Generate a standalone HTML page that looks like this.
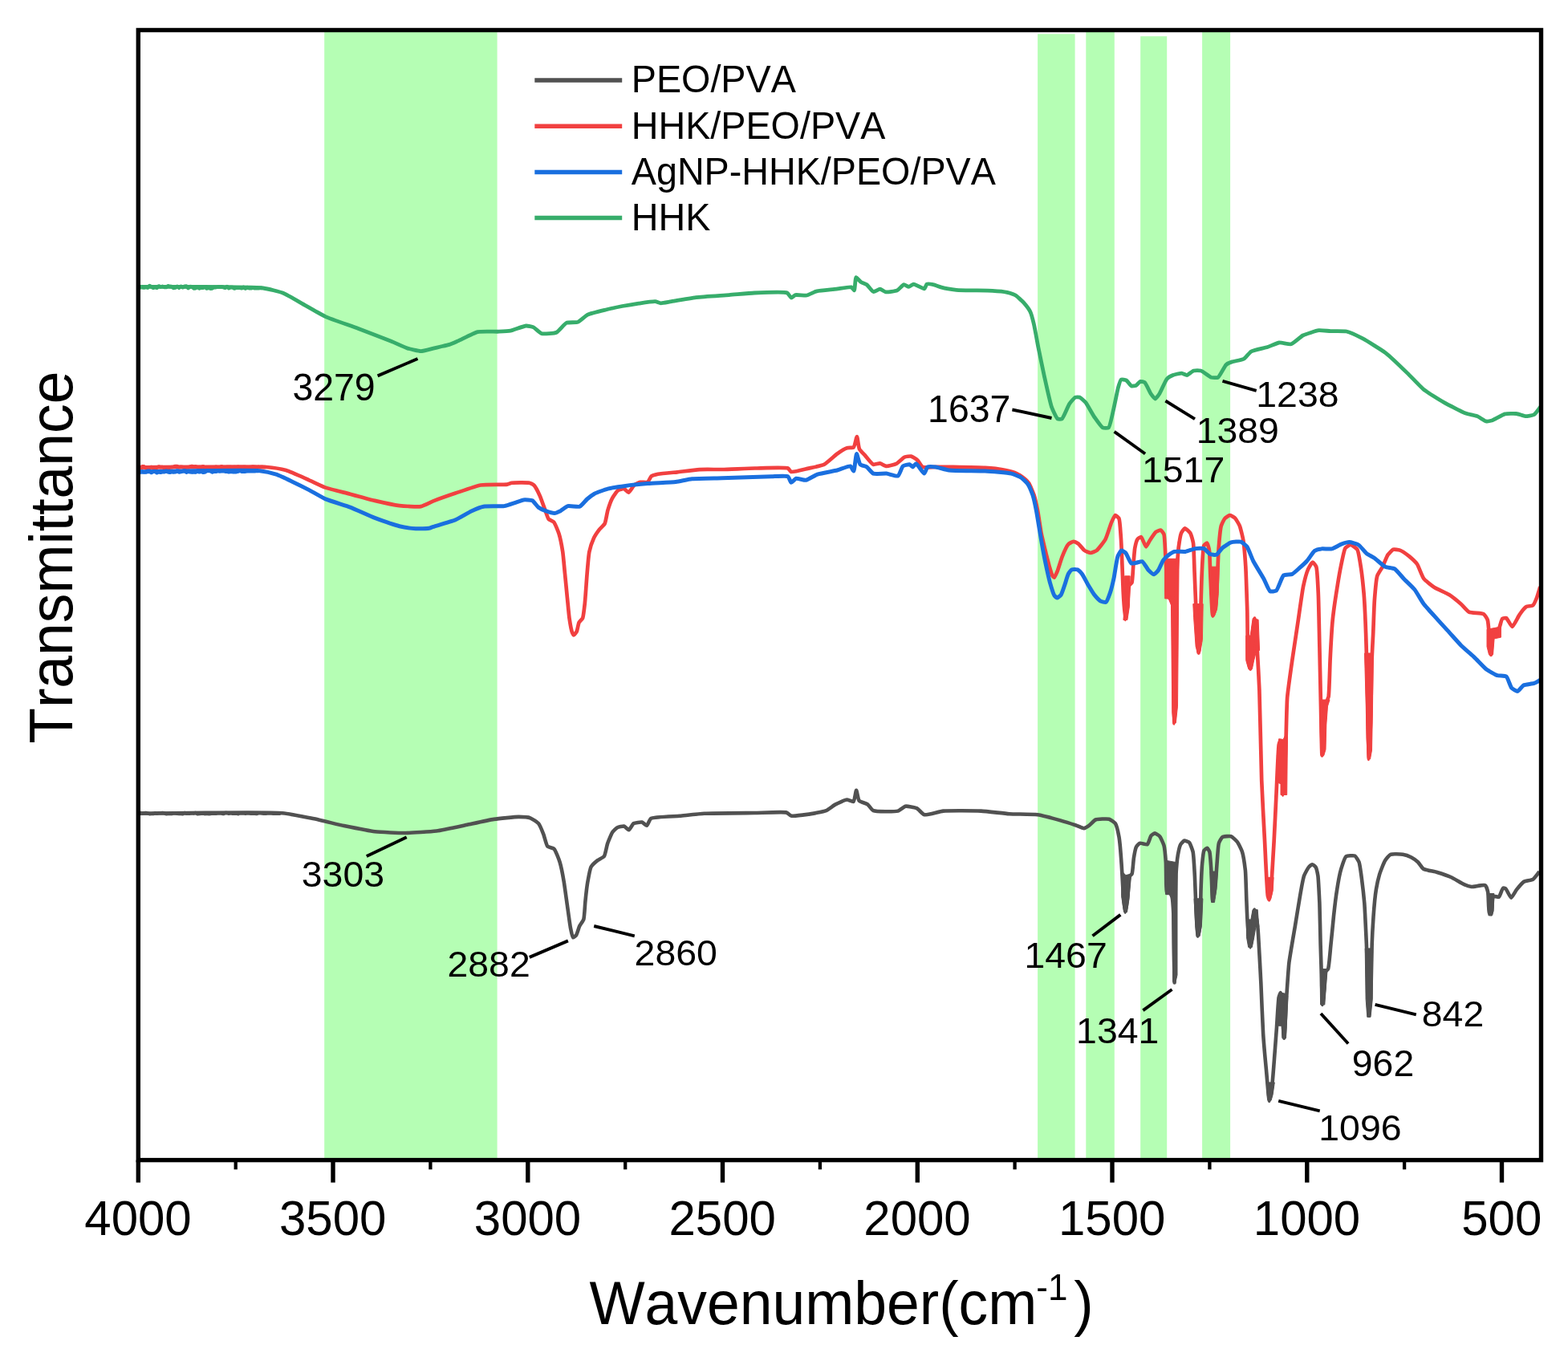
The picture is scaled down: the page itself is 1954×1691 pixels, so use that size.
<!DOCTYPE html>
<html lang="en"><head><meta charset="utf-8"><title>FTIR spectra</title>
<style>html,body{margin:0;padding:0;background:#fff}body{width:1954px;height:1691px;overflow:hidden}svg{display:block}text{font-family:"Liberation Sans",sans-serif;fill:#000;font-kerning:none;font-variant-ligatures:none}</style></head><body>
<svg width="1954" height="1691" viewBox="0 0 1954 1691">
<rect width="1954" height="1691" fill="#fff"/>
<g fill="#b5feb4">
<rect x="404.2" y="40.0" width="215.4" height="1403.0"/>
<rect x="1293.1" y="42.3" width="46.5" height="1400.7"/>
<rect x="1353.3" y="40.0" width="35.5" height="1403.0"/>
<rect x="1421.2" y="45.2" width="33.0" height="1397.8"/>
<rect x="1498.1" y="40.0" width="35.0" height="1403.0"/>
</g>
<polygon fill="#515151" stroke="#515151" stroke-width="1" stroke-linejoin="round" points="1398.3,1086.0 1402.9,1090.6 1409.8,1089.1 1406.8,1119.8 1404.5,1136.6 1400.6,1136.6 1397.6,1116.7"/><polygon fill="#515151" stroke="#515151" stroke-width="1" stroke-linejoin="round" points="1452.5,1072.2 1465.1,1074.5 1467.0,1092.1 1467.0,1215.0 1465.1,1223.4 1461.7,1223.4 1460.5,1115.2 1452.5,1114.4"/><polygon fill="#515151" stroke="#515151" stroke-width="1" stroke-linejoin="round" points="1488.1,1119.8 1498.9,1119.8 1497.4,1153.5 1495.1,1166.6 1491.2,1166.6 1489.7,1153.5"/><polygon fill="#515151" stroke="#515151" stroke-width="1" stroke-linejoin="round" points="1508.1,1086.0 1517.3,1086.0 1515.8,1107.5 1513.5,1124.4 1509.6,1124.4 1508.9,1107.5"/><polygon fill="#515151" stroke="#515151" stroke-width="1" stroke-linejoin="round" points="1553.4,1145.9 1558.8,1145.9 1561.1,1133.6 1567.2,1133.6 1568.8,1155.1 1564.9,1155.1 1562.6,1168.9 1560.3,1180.4 1555.7,1180.4 1553.4,1167.4"/><polygon fill="#515151" stroke="#515151" stroke-width="1" stroke-linejoin="round" points="1578.4,1348.9 1588.3,1348.9 1586.1,1364.2 1584.1,1371.2 1580.0,1371.2 1578.7,1359.6"/><polygon fill="#515151" stroke="#515151" stroke-width="1" stroke-linejoin="round" points="1591.0,1275.2 1593.3,1244.5 1595.6,1236.8 1601.8,1238.3 1604.8,1241.4 1603.3,1278.3 1602.5,1293.6 1597.9,1293.6 1597.2,1278.3 1593.3,1278.3"/><polygon fill="#515151" stroke="#515151" stroke-width="1" stroke-linejoin="round" points="1645.6,1207.5 1654.2,1207.5 1652.5,1228.0 1650.8,1252.0 1645.6,1252.0 1645.3,1228.0"/><polygon fill="#515151" stroke="#515151" stroke-width="1" stroke-linejoin="round" points="1701.2,1181.9 1710.6,1181.9 1710.3,1245.1 1708.0,1267.4 1703.8,1267.4 1702.1,1245.1"/><polygon fill="#515151" stroke="#515151" stroke-width="1" stroke-linejoin="round" points="1853.3,1113.5 1861.9,1113.5 1861.0,1135.7 1858.5,1140.9 1855.0,1140.9"/>
<path fill="none" stroke="#515151" stroke-width="4.60" stroke-linejoin="round" stroke-linecap="butt" d="M172.8,1013.7C172.8,1013.7 333.1,1011.5 351.9,1013.2C360.7,1014.0 383.9,1018.8 390.3,1020.1C396.7,1021.4 422.3,1027.7 428.7,1029.1C435.1,1030.4 460.7,1035.6 467.1,1036.3C473.5,1037.0 499.0,1038.1 505.4,1038.0C511.8,1037.9 537.4,1036.3 543.8,1035.5C550.2,1034.7 576.0,1029.1 582.2,1027.8C587.9,1026.6 610.0,1021.7 615.5,1020.9C620.7,1020.1 642.2,1017.9 646.4,1017.9C649.3,1017.9 658.7,1018.5 660.8,1019.3C662.7,1020.0 669.7,1024.5 671.0,1026.1C672.5,1027.8 676.3,1037.1 677.2,1039.4C678.2,1041.8 680.9,1053.2 682.3,1054.7C683.4,1055.8 689.4,1056.7 690.5,1057.8C692.1,1059.4 696.6,1071.1 697.6,1074.2C698.7,1077.8 702.0,1094.4 702.7,1098.7C703.5,1103.3 706.1,1122.6 706.8,1127.4C707.5,1132.2 710.2,1152.2 710.9,1156.0C711.4,1158.5 713.1,1168.0 714.0,1168.3C714.5,1168.5 717.5,1166.1 718.1,1165.3C719.0,1164.1 721.4,1155.7 722.2,1154.0C722.9,1152.5 726.7,1147.6 727.3,1145.8C728.2,1143.1 729.0,1127.1 729.4,1123.3C729.8,1119.3 731.7,1102.5 732.4,1098.7C733.0,1095.4 735.2,1082.6 736.5,1080.3C737.5,1078.5 743.3,1073.2 744.7,1072.1C746.0,1071.1 751.9,1068.4 752.9,1067.0C754.2,1065.3 756.1,1054.1 757.0,1051.6C757.8,1049.1 761.9,1039.1 763.1,1037.3C764.0,1036.0 768.1,1031.8 769.3,1031.2C770.5,1030.6 776.3,1029.2 777.5,1029.5C778.7,1029.8 782.6,1034.3 783.6,1034.2C784.7,1034.1 788.3,1026.9 789.7,1026.1C791.1,1025.3 798.6,1024.3 800.0,1024.6C801.2,1024.9 805.2,1028.9 806.1,1028.7C807.1,1028.5 809.5,1021.0 811.2,1019.9C814.3,1017.9 841.4,1017.3 847.1,1016.8C852.4,1016.3 871.8,1014.1 877.8,1013.8C886.3,1013.3 930.8,1013.1 940.0,1013.0C947.4,1012.9 976.4,1011.4 980.0,1012.5C981.5,1013.0 984.5,1016.1 985.9,1016.5C988.2,1017.1 1002.4,1015.4 1005.9,1014.9C1009.7,1014.4 1026.4,1011.5 1029.5,1010.2C1031.9,1009.2 1039.1,1003.5 1041.2,1002.4C1043.4,1001.2 1053.2,996.6 1055.3,996.5C1056.8,996.4 1062.6,999.5 1063.6,998.9C1064.9,998.2 1066.5,984.7 1067.1,984.7C1067.7,984.7 1069.3,996.2 1070.6,997.7C1071.8,999.1 1079.7,1001.3 1081.2,1002.4C1082.6,1003.4 1086.4,1009.4 1088.3,1010.2C1091.5,1011.6 1115.4,1011.6 1118.9,1010.6C1121.0,1010.0 1126.5,1005.1 1128.3,1004.7C1130.3,1004.3 1140.4,1006.2 1142.4,1007.1C1144.3,1008.0 1149.8,1014.7 1151.9,1015.3C1154.8,1016.1 1170.8,1011.1 1175.4,1010.6C1181.9,1010.0 1215.2,1010.2 1222.5,1010.6C1228.8,1010.9 1251.9,1013.8 1257.8,1014.2C1263.7,1014.6 1287.6,1014.5 1293.1,1015.3C1298.1,1016.0 1317.2,1021.2 1321.4,1022.4C1324.9,1023.4 1337.5,1027.4 1340.2,1028.3C1342.2,1029.0 1349.3,1032.3 1350.8,1032.2C1352.1,1032.1 1356.5,1029.2 1357.6,1028.4C1358.9,1027.5 1363.6,1022.2 1365.3,1021.5C1367.5,1020.6 1380.0,1020.1 1382.2,1020.7C1383.8,1021.2 1388.9,1024.7 1389.9,1026.1C1391.2,1028.0 1393.9,1039.7 1394.5,1043.0C1395.3,1047.6 1397.2,1071.0 1397.6,1076.8C1398.1,1083.0 1399.4,1109.7 1399.9,1115.2C1400.2,1119.3 1401.7,1136.6 1402.2,1136.6C1402.6,1136.6 1404.8,1123.0 1405.2,1119.8C1405.7,1115.8 1406.5,1094.3 1407.5,1092.1C1407.9,1091.2 1410.2,1089.8 1410.6,1089.0C1411.5,1087.2 1412.4,1072.1 1412.9,1069.1C1413.3,1066.6 1415.1,1056.9 1416.0,1055.3C1416.6,1054.2 1419.6,1051.0 1420.6,1050.7C1421.8,1050.3 1428.7,1052.8 1429.8,1052.2C1431.1,1051.5 1433.4,1042.7 1434.4,1041.5C1435.1,1040.7 1438.2,1038.4 1439.0,1038.4C1440.0,1038.4 1444.3,1041.2 1445.2,1042.2C1446.4,1043.5 1449.9,1051.5 1450.5,1053.7C1451.3,1056.5 1452.5,1069.8 1452.8,1073.7C1453.2,1079.1 1452.9,1112.3 1454.2,1113.0C1454.6,1113.2 1456.7,1110.9 1457.2,1111.0C1457.9,1111.2 1460.2,1116.5 1460.6,1118.0C1461.3,1120.6 1462.2,1135.8 1462.4,1140.0C1462.7,1145.7 1462.8,1173.2 1462.9,1180.0C1463.0,1187.2 1463.5,1224.5 1463.6,1224.5C1463.7,1224.5 1464.2,1188.0 1464.3,1180.0C1464.4,1170.7 1464.6,1128.9 1464.8,1120.0C1464.9,1112.9 1465.6,1087.4 1466.0,1082.0C1466.3,1078.0 1468.0,1064.1 1468.6,1061.4C1469.0,1059.5 1470.6,1053.4 1471.3,1052.2C1471.9,1051.2 1475.0,1047.8 1475.9,1047.6C1476.8,1047.4 1481.2,1049.1 1482.0,1049.9C1483.1,1051.0 1486.0,1059.0 1486.6,1061.4C1487.5,1065.2 1488.6,1086.7 1488.9,1092.1C1489.2,1098.1 1490.1,1124.2 1490.4,1130.5C1490.7,1136.6 1492.2,1166.6 1492.8,1166.6C1493.2,1166.6 1495.1,1156.4 1495.4,1153.5C1496.0,1148.2 1496.3,1114.4 1496.6,1107.5C1496.8,1101.9 1497.7,1081.2 1498.1,1076.8C1498.4,1073.6 1499.5,1061.5 1500.4,1059.9C1500.9,1059.0 1503.7,1056.7 1504.3,1056.8C1504.9,1056.9 1506.9,1060.3 1507.3,1061.4C1508.1,1063.7 1509.1,1080.1 1509.4,1084.4C1509.8,1090.0 1510.6,1122.8 1511.2,1122.8C1511.6,1122.8 1513.8,1110.5 1514.2,1107.5C1514.8,1103.3 1516.1,1081.7 1516.5,1076.8C1516.9,1072.3 1517.9,1053.7 1518.9,1050.7C1519.5,1049.0 1522.3,1043.7 1523.5,1043.0C1524.8,1042.2 1532.7,1041.7 1534.2,1042.2C1535.7,1042.7 1540.8,1047.7 1541.9,1049.1C1543.2,1050.8 1547.2,1059.0 1548.0,1061.4C1549.0,1064.6 1551.4,1080.1 1551.9,1084.4C1552.5,1090.0 1553.1,1116.8 1553.4,1122.8C1553.6,1128.2 1554.5,1148.6 1554.9,1153.5C1555.3,1158.1 1557.4,1180.4 1558.0,1180.4C1558.5,1180.4 1560.7,1164.7 1561.1,1161.2C1561.6,1157.0 1562.8,1133.6 1563.4,1133.6C1563.9,1133.6 1566.7,1149.7 1567.2,1153.5C1567.9,1158.7 1569.1,1183.9 1569.5,1190.0C1569.8,1196.0 1571.1,1219.2 1571.4,1226.0C1571.8,1234.9 1573.5,1278.0 1574.1,1287.5C1574.6,1295.7 1577.3,1326.2 1578.0,1333.5C1578.6,1340.2 1581.1,1371.9 1581.8,1371.9C1582.4,1371.9 1585.1,1353.2 1585.6,1348.9C1586.3,1343.3 1588.2,1316.5 1588.7,1310.5C1589.1,1305.1 1590.6,1285.1 1591.0,1279.8C1591.4,1273.9 1592.9,1246.5 1593.6,1243.0C1593.9,1241.5 1595.5,1237.0 1595.8,1237.0C1596.8,1237.1 1599.6,1293.6 1600.2,1293.6C1600.8,1293.6 1602.8,1249.6 1603.3,1241.4C1603.8,1234.0 1605.6,1206.7 1606.4,1199.6C1607.3,1192.1 1612.8,1160.7 1614.0,1153.5C1615.1,1147.0 1619.0,1122.4 1620.0,1116.9C1620.8,1112.2 1623.9,1094.6 1625.1,1091.3C1625.9,1089.0 1629.9,1081.7 1631.0,1080.5C1631.7,1079.7 1634.7,1077.2 1635.4,1077.2C1636.1,1077.2 1639.1,1079.7 1639.6,1080.5C1640.4,1081.7 1642.0,1089.0 1642.4,1091.3C1643.0,1095.4 1644.1,1119.2 1644.4,1125.5C1644.7,1133.2 1645.4,1169.5 1645.6,1176.8C1645.8,1182.3 1646.3,1200.4 1646.5,1205.8C1646.7,1212.6 1647.8,1252.0 1648.2,1252.0C1648.5,1252.0 1650.3,1231.7 1650.6,1228.0C1650.9,1224.9 1651.1,1212.6 1651.8,1210.9C1652.2,1210.0 1654.6,1208.5 1655.0,1207.5C1656.2,1205.0 1657.9,1182.1 1658.5,1176.8C1659.1,1171.3 1661.3,1148.3 1661.9,1142.6C1662.5,1136.9 1665.3,1113.7 1666.2,1108.4C1666.9,1103.8 1670.2,1086.4 1671.3,1082.7C1672.2,1079.8 1675.6,1068.7 1677.3,1067.4C1678.7,1066.4 1687.0,1065.8 1688.4,1066.5C1689.6,1067.1 1692.8,1072.5 1693.5,1074.2C1694.5,1076.7 1696.4,1090.9 1696.9,1094.7C1697.5,1099.3 1699.8,1119.7 1700.3,1125.5C1700.9,1133.0 1702.5,1168.3 1702.9,1176.8C1703.3,1185.3 1704.3,1220.1 1704.6,1228.0C1704.9,1234.8 1706.0,1265.6 1706.3,1265.6C1706.6,1265.6 1708.3,1234.8 1708.6,1228.0C1708.9,1220.1 1709.4,1184.5 1709.7,1176.8C1709.9,1170.5 1711.1,1148.3 1711.5,1142.6C1711.9,1136.9 1714.1,1113.2 1714.9,1108.4C1715.5,1104.8 1718.2,1092.6 1719.1,1089.6C1720.0,1086.6 1724.6,1074.7 1726.0,1072.5C1727.0,1070.9 1731.2,1065.5 1732.8,1064.8C1734.7,1063.9 1745.9,1064.4 1748.2,1064.8C1750.1,1065.1 1756.9,1067.4 1758.5,1068.2C1760.0,1069.0 1765.7,1073.0 1767.0,1074.2C1768.3,1075.4 1772.2,1081.7 1773.8,1082.7C1775.9,1084.0 1788.1,1086.1 1790.9,1087.0C1793.8,1087.9 1805.2,1091.7 1808.0,1093.0C1810.9,1094.3 1822.7,1101.4 1825.1,1102.4C1826.7,1103.1 1832.0,1104.8 1833.7,1105.0C1836.0,1105.2 1849.1,1102.2 1850.8,1103.2C1852.0,1103.9 1853.8,1109.9 1854.2,1111.8C1854.9,1114.9 1854.9,1135.7 1855.9,1137.4C1856.2,1138.0 1858.1,1139.3 1858.5,1139.1C1859.5,1138.6 1859.5,1118.1 1861.0,1116.9C1861.8,1116.3 1867.0,1118.3 1867.9,1117.8C1869.1,1117.1 1872.0,1107.2 1873.0,1106.7C1873.5,1106.4 1875.8,1107.1 1876.4,1107.5C1877.5,1108.3 1882.0,1118.6 1883.2,1118.6C1884.3,1118.6 1888.8,1110.0 1890.1,1108.4C1891.4,1106.8 1896.9,1100.1 1898.6,1099.0C1900.3,1097.9 1909.0,1096.7 1910.6,1095.6C1912.2,1094.5 1918.3,1086.2 1918.3,1086.2"/>
<polyline fill="none" stroke="#515151" stroke-width="4.60" stroke-linejoin="round" points="172.5,1013.3 174.8,1013.1 177.1,1013.5 179.4,1013.2 181.7,1013.1 184.0,1013.5 186.3,1014.1 188.6,1014.0 190.9,1013.9 193.2,1013.3 195.5,1013.6 197.8,1013.3 200.1,1013.2 202.4,1013.1 204.7,1013.3 207.0,1014.1 209.3,1014.0 211.6,1014.0 213.9,1014.0 216.2,1013.2 218.5,1013.4 220.8,1013.8 223.1,1013.9 225.4,1014.0 227.7,1014.1 230.0,1013.1 232.3,1013.7 234.6,1013.8 236.9,1013.6 239.2,1013.2 241.5,1013.6 243.8,1013.1 246.1,1014.1 248.4,1014.0 250.7,1013.7 253.0,1013.4 255.3,1014.1 257.6,1013.7 259.9,1014.1 262.2,1014.0 264.5,1013.6 266.8,1013.5 269.1,1013.7 271.4,1013.5 273.7,1013.2 276.0,1013.4 278.3,1014.0 280.6,1013.1 282.9,1013.1 285.2,1013.8 287.5,1013.3 289.8,1013.6 292.1,1013.6 294.4,1013.4 296.7,1014.2 299.0,1013.2 301.3,1013.5 303.6,1013.2 305.9,1013.8 308.2,1013.3 310.5,1013.4 312.8,1013.8 315.1,1013.4 317.4,1013.7 319.7,1013.9 322.0,1013.3 324.3,1013.3 326.6,1013.4 328.9,1013.8 331.2,1013.7 333.5,1013.5 335.8,1013.5 338.1,1013.5 340.4,1013.6 342.7,1013.5 345.0,1013.6 347.3,1013.6 349.6,1013.6"/>
<polygon fill="#f14040" stroke="#f14040" stroke-width="1" stroke-linejoin="round" points="1401.6,717.8 1408.2,717.8 1408.2,729.4 1407.4,755.9 1404.9,772.5 1399.9,772.5 1401.6,755.9"/><polygon fill="#f14040" stroke="#f14040" stroke-width="1" stroke-linejoin="round" points="1451.7,696.3 1469.1,696.3 1467.5,880.1 1465.3,900.8 1462.3,902.4 1460.8,888.3 1459.5,754.2 1456.2,746.0 1451.7,746.0"/><polygon fill="#f14040" stroke="#f14040" stroke-width="1" stroke-linejoin="round" points="1486.8,752.6 1499.2,752.6 1498.4,797.3 1495.9,812.2 1492.6,813.8 1490.1,805.6 1487.6,769.1"/><polygon fill="#f14040" stroke="#f14040" stroke-width="1" stroke-linejoin="round" points="1506.7,706.2 1519.1,706.2 1518.3,739.3 1516.6,759.2 1513.3,767.5 1510.0,767.5 1508.3,739.3"/><polygon fill="#f14040" stroke="#f14040" stroke-width="1" stroke-linejoin="round" points="1552.7,792.1 1558.1,792.1 1561.2,770.6 1568.1,772.2 1569.6,810.5 1565.8,810.5 1562.7,822.8 1560.4,833.6 1555.8,833.6 1552.7,822.8"/><polygon fill="#f14040" stroke="#f14040" stroke-width="1" stroke-linejoin="round" points="1591.4,941.4 1593.7,920.7 1599.1,921.5 1604.5,910.7 1603.7,990.5 1596.0,990.5 1596.0,976.7 1592.2,975.2"/><polygon fill="#f14040" stroke="#f14040" stroke-width="1" stroke-linejoin="round" points="1577.9,1093.4 1587.1,1093.4 1586.2,1110.3 1583.7,1119.5 1580.1,1119.5 1578.2,1104.2"/><polygon fill="#f14040" stroke="#f14040" stroke-width="1" stroke-linejoin="round" points="1644.5,872.0 1657.0,872.0 1654.5,880.0 1652.8,903.0 1652.0,934.0 1649.8,941.4 1646.0,941.4 1645.2,910.0"/><polygon fill="#f14040" stroke="#f14040" stroke-width="1" stroke-linejoin="round" points="1700.5,814.0 1711.2,814.0 1710.5,880.0 1709.5,935.0 1707.5,946.0 1704.5,946.0 1703.0,920.0 1702.3,880.0"/><polygon fill="#f14040" stroke="#f14040" stroke-width="1" stroke-linejoin="round" points="1853.0,784.3 1862.1,782.6 1870.4,780.9 1870.4,794.2 1862.1,795.9 1860.5,815.8 1855.5,815.8 1853.0,805.8"/>
<path fill="none" stroke="#f14040" stroke-width="4.70" stroke-linejoin="round" stroke-linecap="butt" d="M172.3,582.6C172.3,582.6 317.0,580.8 332.0,582.0C337.9,582.5 352.3,584.9 356.5,586.1C361.2,587.5 380.8,596.4 385.2,598.3C388.9,599.9 401.9,606.2 405.7,607.6C410.2,609.2 431.3,614.3 436.4,615.7C441.5,617.1 462.0,622.7 467.1,623.9C472.2,625.1 492.8,629.5 497.8,630.1C502.4,630.6 520.6,631.8 524.4,631.1C527.4,630.5 537.0,625.6 540.0,624.4C543.9,622.9 562.8,616.2 567.6,614.6C572.7,612.9 593.6,605.4 599.0,604.5C604.4,603.6 628.9,604.2 632.1,603.6C633.4,603.4 636.4,601.9 637.6,601.7C640.0,601.3 657.3,601.1 659.7,601.7C661.0,602.0 664.4,603.7 665.3,604.5C666.6,605.8 671.5,615.0 672.6,617.4C674.0,620.3 679.0,634.9 680.0,637.6C680.7,639.5 682.7,645.8 683.7,646.9C684.5,647.8 689.2,649.5 690.1,650.5C691.5,652.0 695.7,662.5 696.6,665.3C697.6,668.6 700.6,683.5 701.2,687.4C701.9,691.7 703.5,710.4 704.0,715.0C704.5,719.6 706.2,738.1 706.7,742.7C707.2,747.3 708.9,766.2 709.5,770.3C710.0,773.7 712.5,787.0 713.2,788.7C713.5,789.4 714.6,791.5 715.0,791.5C715.5,791.5 718.2,787.9 718.7,786.9C719.4,785.5 720.8,777.3 721.5,775.8C722.1,774.6 725.5,771.6 726.1,770.3C727.0,768.2 728.4,755.5 728.8,751.9C729.4,746.8 731.1,720.7 731.6,715.0C732.0,710.1 733.5,691.4 734.4,687.4C735.1,684.2 738.8,673.2 739.9,670.8C740.8,668.8 745.1,662.3 746.3,660.7C747.4,659.2 752.8,654.2 753.7,652.4C754.8,650.2 756.6,638.5 757.4,635.8C758.2,633.2 761.7,623.3 762.9,621.1C763.9,619.2 768.9,611.9 770.3,610.9C771.4,610.2 776.6,608.8 777.7,609.1C778.8,609.3 782.3,613.8 783.2,613.7C784.4,613.6 789.1,605.6 790.5,604.5C791.6,603.6 796.6,601.1 797.9,600.8C799.3,600.5 805.9,601.4 807.1,600.8C808.2,600.2 810.6,594.2 811.7,593.4C812.8,592.6 818.2,591.1 820.0,590.7C822.9,590.1 839.9,588.7 844.0,588.3C848.4,587.8 867.0,585.4 871.6,585.1C876.3,584.8 894.8,585.1 900.0,585.0C906.2,584.9 934.1,583.6 940.9,583.5C947.7,583.4 978.7,582.1 981.9,583.5C983.1,584.0 984.9,587.6 986.0,588.0C988.0,588.7 1003.0,584.7 1006.4,583.9C1009.8,583.1 1023.8,580.3 1026.9,578.8C1030.0,577.3 1040.7,567.3 1043.3,565.5C1045.4,564.0 1053.7,558.9 1055.6,558.3C1057.1,557.8 1062.8,558.1 1063.8,557.3C1065.1,556.2 1067.3,544.0 1067.9,544.0C1068.5,544.0 1069.9,557.3 1070.9,559.4C1071.7,561.1 1076.8,566.1 1078.1,567.6C1079.6,569.3 1086.5,578.2 1088.3,578.8C1089.6,579.3 1095.2,577.2 1096.5,577.4C1097.9,577.6 1103.2,580.8 1104.7,580.9C1106.5,581.0 1115.1,578.7 1117.0,577.8C1118.9,576.9 1125.5,570.3 1127.2,569.6C1128.6,569.0 1134.1,568.3 1135.4,568.6C1136.8,568.9 1142.4,572.6 1143.6,573.7C1144.8,574.8 1148.2,581.1 1149.7,581.9C1151.6,582.9 1163.2,581.9 1166.1,581.9C1169.3,581.9 1182.6,581.9 1186.6,581.9C1192.3,582.0 1221.9,582.5 1227.5,582.9C1231.5,583.2 1244.8,584.4 1248.0,585.0C1250.9,585.5 1262.1,588.1 1264.4,589.0C1266.3,589.7 1272.5,593.4 1274.0,594.5C1275.5,595.6 1280.9,600.4 1282.0,602.0C1283.4,603.9 1287.6,614.1 1288.5,616.8C1289.5,619.8 1292.5,633.2 1293.2,636.8C1294.0,641.0 1296.7,659.9 1297.6,664.4C1298.5,668.8 1302.7,686.2 1303.6,690.0C1304.4,693.1 1307.3,704.5 1308.0,707.0C1308.6,709.0 1310.8,716.4 1311.5,717.5C1311.9,718.1 1313.4,719.8 1313.8,719.7C1314.4,719.6 1316.9,713.6 1317.6,712.0C1318.6,709.6 1322.5,696.5 1323.7,693.6C1324.8,690.9 1329.9,679.7 1331.4,678.2C1332.4,677.2 1336.6,674.8 1337.6,674.8C1338.6,674.8 1342.7,676.8 1343.7,677.5C1345.0,678.4 1350.0,684.9 1351.4,685.9C1352.6,686.7 1357.8,689.0 1359.1,689.0C1360.4,689.0 1365.4,686.8 1366.7,685.9C1368.5,684.5 1376.0,674.8 1377.5,672.1C1379.2,669.0 1384.0,653.3 1385.2,650.6C1386.0,648.8 1388.9,642.3 1389.8,642.1C1390.5,642.0 1393.8,644.9 1394.4,646.0C1395.5,648.0 1396.4,663.6 1396.7,667.5C1397.1,672.2 1398.0,692.8 1398.2,698.2C1398.5,704.2 1399.4,730.3 1399.7,736.6C1400.0,742.6 1401.6,772.0 1402.2,772.0C1402.6,772.0 1404.8,755.4 1405.2,752.0C1405.6,748.4 1406.3,731.5 1407.2,729.5C1407.6,728.6 1410.1,726.9 1410.5,726.0C1411.3,724.1 1411.9,709.5 1412.2,706.0C1412.5,702.3 1413.7,685.9 1414.3,682.8C1414.7,680.7 1416.5,673.3 1417.4,672.1C1418.0,671.3 1421.3,668.8 1422.0,669.0C1423.1,669.3 1427.1,681.3 1428.1,681.3C1428.9,681.3 1431.9,675.0 1432.8,673.6C1433.9,671.9 1439.0,664.0 1440.4,662.9C1441.4,662.2 1445.8,660.3 1446.6,660.6C1447.4,660.9 1450.0,664.6 1450.5,665.9C1451.4,668.4 1452.0,686.3 1452.3,690.5C1452.6,695.0 1453.5,713.5 1453.6,718.0C1453.7,722.3 1453.0,741.4 1454.0,743.0C1454.4,743.6 1456.5,744.1 1457.0,744.5C1457.6,745.0 1460.3,747.9 1460.8,749.0C1461.7,751.1 1462.0,765.4 1462.2,770.0C1462.5,779.0 1462.5,838.1 1462.6,850.0C1462.7,859.5 1463.2,901.5 1463.4,901.5C1463.6,901.5 1464.5,859.5 1464.6,850.0C1464.8,838.1 1465.0,782.1 1465.2,770.0C1465.3,760.0 1466.1,722.4 1466.4,715.0C1466.6,710.0 1467.7,693.6 1468.0,690.0C1468.2,687.3 1469.2,678.2 1469.6,676.0C1469.9,674.0 1471.3,666.0 1472.0,664.4C1472.6,663.1 1475.6,658.4 1476.5,658.3C1477.5,658.2 1482.5,663.1 1483.4,664.4C1484.4,666.0 1486.6,674.1 1487.0,676.7C1487.7,681.2 1488.3,707.0 1488.6,713.5C1488.9,720.8 1490.1,752.0 1490.5,760.0C1490.9,768.6 1493.1,813.6 1493.6,813.6C1494.1,813.6 1495.9,768.6 1496.3,760.0C1496.6,752.0 1497.4,720.6 1497.8,713.5C1498.1,707.4 1499.0,682.3 1500.3,679.8C1500.8,678.8 1503.7,676.5 1504.2,676.7C1504.9,676.9 1506.7,683.9 1507.0,685.9C1507.6,689.2 1507.9,708.1 1508.2,713.5C1508.6,721.0 1510.3,767.5 1511.3,767.6C1511.8,767.7 1514.2,760.1 1514.6,758.0C1515.4,754.2 1516.5,730.8 1516.8,725.0C1517.2,718.4 1518.2,689.1 1518.7,682.8C1519.1,677.7 1520.8,658.5 1521.8,655.2C1522.4,653.2 1525.4,647.1 1526.4,646.0C1527.2,645.1 1531.5,642.2 1532.5,642.1C1533.5,642.0 1537.8,644.4 1538.7,645.2C1539.9,646.3 1544.0,653.2 1544.8,655.2C1545.9,657.7 1548.8,670.1 1549.4,673.6C1550.2,678.2 1551.9,699.7 1552.3,705.8C1552.8,713.8 1554.0,751.9 1554.3,761.4C1554.6,771.4 1554.6,816.8 1555.4,822.8C1555.7,825.4 1557.7,833.6 1558.1,833.6C1558.7,833.5 1560.1,805.4 1560.6,800.0C1561.0,794.9 1563.0,770.6 1563.5,770.6C1564.0,770.6 1566.1,800.8 1566.6,807.5C1567.1,815.5 1569.0,849.6 1569.4,860.0C1570.0,875.2 1571.6,955.2 1572.2,972.1C1572.7,986.1 1575.4,1036.5 1576.1,1048.9C1576.7,1060.5 1578.9,1111.7 1579.9,1116.4C1580.2,1117.7 1581.5,1121.3 1581.8,1121.3C1582.2,1121.3 1583.4,1112.9 1583.7,1110.3C1584.4,1104.2 1587.0,1059.1 1587.6,1048.9C1588.2,1038.7 1590.1,997.7 1590.6,987.5C1591.1,977.5 1592.8,932.4 1593.7,928.0C1594.0,926.7 1595.3,923.0 1595.6,923.0C1596.6,923.2 1598.5,990.5 1599.1,990.5C1599.6,990.5 1601.9,940.1 1602.3,930.0C1602.7,919.8 1603.4,878.3 1604.2,868.9C1604.9,860.7 1609.2,830.5 1610.3,822.8C1611.4,815.1 1616.1,784.5 1617.2,776.8C1618.4,769.1 1622.8,736.9 1624.1,730.7C1625.0,726.5 1628.8,712.3 1630.0,709.6C1630.9,707.7 1634.9,700.5 1635.8,700.5C1636.6,700.5 1639.7,704.8 1640.3,706.3C1641.5,709.5 1642.5,733.0 1642.8,739.5C1643.3,748.7 1644.1,794.4 1644.4,805.8C1644.7,817.9 1645.7,868.6 1646.0,880.4C1646.2,891.1 1647.1,941.4 1647.5,941.4C1647.8,941.4 1649.8,910.6 1650.2,905.0C1650.5,900.2 1651.3,881.4 1652.0,878.0C1652.4,875.9 1655.1,870.3 1655.6,868.0C1656.5,863.2 1657.2,830.2 1657.6,822.4C1658.0,814.3 1659.9,780.5 1660.7,772.6C1661.4,765.4 1665.5,737.4 1666.5,731.2C1667.3,726.0 1670.6,707.3 1671.5,703.0C1672.3,699.4 1675.0,685.0 1676.4,683.1C1677.3,681.9 1681.9,679.0 1683.1,679.0C1684.4,679.0 1690.4,683.2 1691.4,684.8C1693.1,687.3 1695.6,705.3 1696.3,709.6C1697.0,714.3 1699.1,733.9 1699.6,739.5C1700.2,746.7 1701.8,780.9 1702.1,789.2C1702.4,797.5 1703.4,830.3 1703.6,839.0C1703.8,848.7 1704.6,890.5 1704.8,900.0C1705.0,908.2 1705.5,946.0 1705.8,946.0C1706.1,946.0 1707.7,908.7 1708.0,900.0C1708.4,888.8 1709.2,832.6 1709.6,822.4C1709.8,815.7 1710.9,795.0 1711.2,789.2C1711.5,782.7 1712.4,754.1 1712.9,747.8C1713.3,742.4 1715.0,721.6 1716.2,717.9C1717.0,715.4 1721.8,708.4 1722.9,706.3C1724.1,704.0 1728.2,693.3 1729.5,691.4C1730.5,690.0 1734.8,685.3 1736.1,684.8C1737.3,684.4 1743.0,685.1 1744.4,685.6C1746.2,686.2 1754.2,691.7 1756.0,693.1C1757.8,694.6 1764.6,700.9 1766.0,703.0C1767.7,705.5 1772.4,718.7 1774.3,721.2C1776.1,723.5 1785.0,730.4 1787.5,732.0C1790.2,733.8 1803.0,739.3 1805.8,741.1C1808.5,742.8 1818.5,750.9 1820.7,752.8C1822.6,754.5 1828.5,761.6 1830.6,762.7C1833.0,763.9 1847.0,764.0 1848.9,765.2C1850.2,766.0 1853.2,770.9 1853.8,772.6C1854.8,775.4 1855.9,793.7 1856.3,797.5C1856.6,800.8 1857.7,815.8 1858.0,815.8C1858.4,815.8 1859.0,791.4 1860.5,789.2C1861.3,788.0 1866.2,786.9 1867.1,785.9C1868.4,784.4 1870.9,772.0 1872.1,771.0C1872.8,770.4 1876.3,769.9 1877.1,770.2C1878.4,770.8 1883.2,780.9 1884.5,780.9C1886.0,780.9 1892.0,768.2 1893.6,766.0C1894.9,764.1 1900.3,757.0 1901.9,756.1C1903.2,755.3 1909.1,755.2 1910.2,754.4C1911.4,753.5 1914.5,746.3 1915.2,744.5C1916.0,742.5 1919.3,731.2 1919.3,731.2"/>
<polyline fill="none" stroke="#f14040" stroke-width="4.70" stroke-linejoin="round" points="172.5,583.7 174.8,583.7 177.1,581.3 179.4,581.4 181.7,583.3 184.0,583.1 186.3,582.9 188.6,582.0 190.9,582.7 193.2,582.7 195.5,582.6 197.8,581.5 200.1,582.2 202.4,582.1 204.7,583.0 207.0,583.7 209.3,583.6 211.6,582.5 213.9,582.2 216.2,581.8 218.5,581.1 220.8,581.1 223.1,582.3 225.4,581.9 227.7,582.0 230.0,583.3 232.3,582.4 234.6,582.5 236.9,581.6 239.2,581.1 241.5,581.8 243.8,581.3 246.1,582.3 248.4,583.6 250.7,582.7 253.0,581.4 255.3,583.3 257.6,583.0 259.9,582.8 262.2,583.3 264.5,582.9 266.8,583.0 269.1,581.8 271.4,583.4 273.7,583.4 276.0,581.3 278.3,582.8 280.6,582.7 282.9,582.1 285.2,582.2 287.5,582.1 289.8,583.2 292.1,582.1 294.4,582.9 296.7,581.8 299.0,582.9 301.3,582.9 303.6,582.0 305.9,582.2 308.2,582.7 310.5,582.4 312.8,582.0 315.1,581.7 317.4,581.9 319.7,582.2 322.0,581.8 324.3,582.2 326.6,581.9 328.9,582.1 331.2,582.0"/>
<path fill="none" stroke="#1a6fdf" stroke-width="5.00" stroke-linejoin="round" stroke-linecap="butt" d="M172.3,588.1C172.3,588.1 310.3,585.3 323.8,586.7C328.8,587.2 340.9,590.1 344.2,591.2C347.7,592.3 361.3,598.8 364.7,600.4C368.1,602.0 381.8,608.8 385.2,610.6C388.6,612.4 401.9,620.2 405.7,621.9C410.2,623.9 431.3,630.2 436.4,632.1C441.6,634.1 461.9,643.4 467.1,645.4C472.2,647.3 493.2,654.6 497.8,655.7C501.5,656.6 515.0,658.5 518.2,658.7C521.1,658.9 532.6,658.7 534.6,658.3C535.8,658.1 538.7,656.8 540.0,656.4C542.8,655.5 563.4,649.6 567.6,647.8C571.3,646.2 584.7,638.1 587.9,636.7C590.5,635.5 599.8,631.7 602.6,631.2C606.2,630.5 624.9,631.2 628.4,630.6C631.0,630.2 639.2,627.3 641.3,626.6C643.2,626.0 650.5,623.1 652.4,622.9C654.2,622.7 661.9,623.0 663.4,623.8C664.9,624.6 669.4,631.0 670.8,632.1C672.2,633.1 678.4,636.1 680.0,636.7C681.7,637.3 689.5,639.6 691.1,639.5C692.5,639.4 697.1,637.3 698.4,636.7C699.9,635.9 705.8,631.1 707.6,630.6C709.7,630.0 720.4,632.0 722.4,631.2C724.3,630.5 730.0,623.4 731.6,622.0C733.1,620.7 739.0,616.2 740.8,615.2C743.1,614.0 754.4,609.9 757.4,609.1C760.8,608.2 775.6,605.9 779.5,605.4C783.8,604.8 802.2,603.0 807.1,602.6C812.6,602.1 837.1,601.0 842.1,600.4C846.0,599.9 858.5,597.1 862.4,596.7C867.7,596.2 893.0,595.9 900.0,595.7C909.0,595.4 953.9,593.9 961.4,593.8C965.7,593.7 979.9,592.6 981.9,593.8C983.2,594.6 985.1,601.1 986.0,601.3C986.8,601.5 990.8,596.5 992.1,596.2C993.7,595.8 1002.3,598.6 1004.4,598.3C1006.8,597.9 1015.9,592.1 1018.7,591.1C1022.2,589.9 1039.6,586.9 1043.3,586.0C1046.3,585.2 1058.0,580.3 1059.7,580.9C1060.8,581.3 1063.2,587.1 1063.8,587.0C1064.8,586.8 1066.7,565.6 1067.5,565.5C1068.1,565.5 1070.7,577.5 1072.0,578.8C1073.0,579.9 1078.8,581.1 1080.1,581.9C1081.6,582.9 1086.5,589.4 1088.3,590.1C1090.4,591.0 1102.1,589.8 1104.7,590.1C1107.2,590.4 1117.3,593.9 1119.0,593.1C1120.7,592.3 1123.8,582.0 1125.2,580.9C1126.3,580.0 1132.3,578.6 1133.4,578.8C1134.3,579.0 1136.8,581.9 1137.5,581.9C1138.2,581.9 1140.8,577.8 1141.6,577.8C1142.9,577.9 1150.6,590.2 1151.8,590.1C1152.7,590.0 1154.8,582.6 1155.9,581.9C1157.1,581.2 1164.2,581.7 1166.1,581.9C1168.5,582.2 1179.1,585.5 1182.5,586.0C1188.1,586.8 1220.6,586.6 1227.5,587.0C1233.4,587.3 1256.2,589.1 1260.3,590.1C1262.9,590.7 1270.9,594.1 1272.6,595.2C1274.2,596.3 1279.6,601.4 1280.7,603.0C1282.0,604.9 1286.0,614.2 1286.9,616.8C1287.9,619.8 1290.8,633.2 1291.5,636.8C1292.3,641.0 1295.3,659.6 1296.1,664.4C1297.0,669.8 1301.1,692.9 1302.2,698.2C1303.2,703.0 1307.3,721.8 1308.4,725.8C1309.3,728.9 1312.7,740.3 1313.8,741.9C1314.4,742.7 1316.9,745.0 1317.6,745.0C1318.3,745.0 1321.5,742.1 1322.2,741.2C1323.2,739.8 1326.1,731.0 1326.8,728.9C1327.6,726.7 1330.4,716.8 1331.4,715.1C1332.1,713.9 1335.1,710.1 1336.0,709.7C1336.9,709.3 1341.2,709.3 1342.2,709.7C1343.3,710.1 1347.3,713.9 1348.3,715.1C1349.7,716.8 1354.7,726.7 1356.0,728.9C1357.3,731.0 1362.3,739.5 1363.7,741.2C1364.9,742.7 1369.9,748.2 1371.3,748.9C1372.4,749.5 1377.3,750.9 1378.2,750.4C1379.5,749.7 1382.8,740.4 1383.6,738.1C1384.5,735.4 1387.5,723.0 1388.2,719.7C1389.0,715.7 1391.7,696.6 1392.8,693.6C1393.4,691.9 1396.5,686.1 1397.4,685.9C1398.2,685.7 1402.0,688.1 1402.8,689.0C1404.1,690.3 1408.3,701.3 1409.7,702.0C1410.6,702.5 1414.8,701.5 1415.9,701.3C1417.1,701.1 1422.4,699.3 1423.5,699.7C1425.0,700.3 1429.8,709.1 1431.2,710.5C1432.3,711.6 1437.0,715.9 1438.1,715.8C1439.1,715.7 1442.7,711.7 1443.5,710.5C1444.6,708.9 1448.4,699.8 1449.6,698.2C1450.5,696.9 1454.6,692.9 1455.8,692.0C1457.0,691.1 1462.0,687.8 1463.5,687.4C1465.4,686.9 1475.1,687.7 1477.3,687.4C1479.4,687.1 1487.6,683.9 1489.6,683.6C1491.4,683.3 1498.8,683.0 1500.3,683.6C1501.8,684.2 1506.6,689.9 1508.0,690.5C1509.2,691.0 1514.5,691.8 1515.7,691.3C1517.1,690.7 1521.8,684.1 1523.3,682.8C1524.9,681.5 1532.2,676.5 1534.1,675.9C1536.0,675.3 1544.7,674.6 1546.4,675.2C1547.9,675.7 1552.9,679.8 1554.0,681.3C1555.6,683.4 1560.1,695.9 1561.7,699.0C1563.5,702.6 1573.1,718.1 1575.0,721.5C1576.5,724.3 1581.0,735.9 1582.7,736.8C1583.8,737.4 1589.3,736.9 1590.4,736.1C1592.3,734.8 1597.5,718.4 1599.6,716.9C1601.1,715.8 1608.7,716.1 1610.3,715.4C1612.0,714.6 1618.0,709.0 1619.5,707.7C1621.1,706.3 1627.2,700.7 1628.7,699.0C1630.4,697.2 1636.5,687.6 1638.3,686.4C1639.6,685.5 1645.0,684.1 1646.6,683.9C1648.5,683.6 1657.7,684.4 1659.8,683.9C1661.9,683.4 1669.6,678.8 1671.5,678.1C1673.2,677.5 1679.7,675.6 1681.4,675.6C1683.3,675.6 1691.3,677.9 1693.0,679.0C1694.9,680.2 1701.2,688.3 1703.0,689.7C1704.6,691.0 1711.2,694.3 1712.9,695.5C1715.0,697.0 1723.9,705.2 1726.2,706.3C1728.1,707.2 1736.0,707.8 1737.8,708.8C1739.9,710.0 1747.4,719.1 1749.4,721.2C1751.5,723.4 1760.7,732.0 1762.7,734.5C1764.9,737.2 1772.2,750.0 1774.3,752.8C1776.3,755.5 1785.2,765.1 1787.5,767.7C1790.1,770.6 1801.3,782.9 1804.1,785.9C1806.9,788.9 1817.9,801.4 1820.7,804.2C1823.4,806.9 1834.6,816.6 1837.3,819.1C1839.9,821.5 1849.7,832.1 1852.2,834.0C1854.4,835.6 1863.3,840.8 1865.5,841.5C1867.4,842.2 1875.6,842.0 1877.1,843.1C1878.8,844.4 1882.3,855.7 1883.7,857.2C1884.8,858.3 1890.0,861.6 1891.2,861.4C1892.5,861.2 1897.0,854.7 1898.6,853.9C1900.4,853.0 1910.1,852.1 1911.9,851.4C1913.4,850.9 1919.3,847.3 1919.3,847.3"/>
<polyline fill="none" stroke="#1a6fdf" stroke-width="5.00" stroke-linejoin="round" points="172.5,587.5 174.8,588.2 177.1,587.8 179.4,588.3 181.7,588.3 184.0,587.0 186.3,586.9 188.6,588.7 190.9,587.4 193.2,587.3 195.5,589.0 197.8,587.8 200.1,588.6 202.4,587.8 204.7,588.1 207.0,587.0 209.3,588.1 211.6,588.6 213.9,587.8 216.2,588.3 218.5,588.1 220.8,586.7 223.1,588.2 225.4,587.8 227.7,587.2 230.0,586.6 232.3,588.4 234.6,587.5 236.9,588.0 239.2,588.4 241.5,588.0 243.8,588.4 246.1,587.2 248.4,588.1 250.7,587.3 253.0,588.4 255.3,588.2 257.6,586.5 259.9,586.5 262.2,586.7 264.5,588.3 266.8,587.2 269.1,587.5 271.4,586.8 273.7,587.2 276.0,587.0 278.3,586.9 280.6,587.4 282.9,587.3 285.2,588.0 287.5,587.5 289.8,587.9 292.1,587.7 294.4,587.9 296.7,587.3 299.0,586.5 301.3,587.5 303.6,587.5 305.9,587.4 308.2,587.0 310.5,587.1 312.8,586.7 315.1,587.0 317.4,586.9 319.7,586.8 322.0,586.8"/>
<path fill="none" stroke="#37ad6b" stroke-width="4.80" stroke-linejoin="round" stroke-linecap="butt" d="M172.3,357.3C172.3,357.3 313.2,357.1 327.9,359.0C333.8,359.8 348.3,363.5 352.4,365.1C357.1,366.9 376.4,378.4 381.0,380.9C385.3,383.3 401.0,392.4 405.7,394.6C411.6,397.3 439.8,406.9 446.6,409.5C453.4,412.1 481.9,423.0 487.5,425.3C491.5,426.9 504.7,433.1 508.0,434.1C510.8,435.0 521.7,437.6 524.4,437.6C527.0,437.6 537.8,434.6 540.0,434.1C541.7,433.7 547.4,432.4 549.0,432.0C550.7,431.6 558.2,430.0 560.0,429.4C561.8,428.8 568.6,425.8 570.7,424.9C574.0,423.5 591.0,414.6 595.3,413.6C599.5,412.6 618.2,413.4 621.9,413.2C624.7,413.1 633.7,412.7 636.2,412.2C639.2,411.6 653.0,406.1 655.7,406.0C657.5,405.9 663.4,407.2 664.9,407.9C666.6,408.7 673.0,415.1 675.1,415.7C677.6,416.4 690.9,415.4 693.5,414.2C696.0,413.1 703.5,403.4 705.8,402.4C707.9,401.4 717.9,402.1 720.1,401.3C722.4,400.4 729.9,393.3 732.4,392.1C735.5,390.6 751.3,386.9 755.0,386.0C758.5,385.1 772.0,382.2 775.4,381.5C778.8,380.9 792.5,378.7 795.9,378.2C799.3,377.7 813.9,375.5 816.4,375.7C817.9,375.8 822.1,377.7 823.5,377.8C825.4,377.9 834.1,376.1 836.8,375.7C840.9,375.0 862.0,371.3 867.5,370.6C873.8,369.8 902.1,368.1 908.5,367.6C914.1,367.2 934.4,365.2 940.0,365.0C946.4,364.7 977.6,363.4 981.0,365.0C982.5,365.7 985.1,371.0 986.0,371.1C986.8,371.2 990.1,367.9 991.2,367.6C992.9,367.1 1003.2,368.4 1005.5,368.0C1007.7,367.6 1015.3,363.5 1017.8,362.9C1021.1,362.0 1038.6,360.7 1042.4,360.2C1045.7,359.8 1059.0,357.1 1060.8,357.8C1061.8,358.2 1064.0,362.0 1064.5,361.9C1065.3,361.7 1065.9,345.8 1066.9,345.5C1067.6,345.3 1071.9,350.8 1073.0,351.6C1074.1,352.3 1079.0,353.9 1080.2,354.7C1081.6,355.7 1086.9,363.2 1088.4,363.5C1089.7,363.8 1095.3,360.1 1096.6,360.2C1097.9,360.3 1102.4,363.7 1103.8,363.9C1105.7,364.2 1116.1,362.8 1118.0,361.9C1119.7,361.1 1125.0,354.9 1126.3,354.7C1127.3,354.5 1131.4,357.4 1132.4,357.4C1133.4,357.4 1137.4,354.2 1138.6,354.1C1140.4,354.0 1150.5,360.3 1151.9,359.8C1152.8,359.5 1154.2,354.6 1155.0,354.1C1155.9,353.6 1161.7,354.4 1163.1,354.7C1164.7,355.0 1171.4,357.7 1173.4,358.2C1176.0,358.9 1188.0,360.9 1191.8,361.3C1197.6,361.9 1231.0,361.9 1236.8,362.3C1240.5,362.5 1252.6,363.7 1255.2,364.3C1257.2,364.8 1263.9,367.0 1265.5,368.0C1267.3,369.1 1274.2,375.5 1275.7,377.2C1277.2,378.9 1282.9,386.4 1283.9,388.5C1285.0,390.8 1287.7,401.0 1288.4,404.0C1289.4,408.1 1293.0,428.3 1294.0,433.4C1295.1,439.0 1300.0,462.4 1301.3,468.4C1302.7,474.7 1308.7,502.2 1310.5,507.1C1311.6,510.2 1316.4,521.0 1317.9,521.9C1318.7,522.4 1322.5,522.4 1323.4,521.9C1325.1,520.9 1331.0,505.8 1332.6,503.4C1333.8,501.6 1338.7,495.7 1340.0,495.1C1340.9,494.7 1344.6,494.8 1345.5,495.1C1346.7,495.6 1351.7,500.1 1352.9,501.6C1354.7,503.8 1362.1,517.3 1364.0,520.0C1365.7,522.4 1372.3,532.0 1374.1,532.9C1375.3,533.5 1380.5,533.7 1381.5,532.9C1383.3,531.5 1386.9,513.1 1387.9,509.0C1388.9,504.8 1392.5,486.5 1393.4,483.2C1394.0,481.1 1396.0,473.6 1397.1,473.0C1397.9,472.5 1402.6,473.5 1403.6,474.0C1404.8,474.6 1408.9,480.6 1410.0,481.0C1410.9,481.3 1414.6,480.8 1415.5,480.4C1416.5,480.0 1420.1,475.7 1421.1,475.4C1422.0,475.2 1425.7,476.0 1426.6,476.7C1428.0,477.8 1432.8,488.7 1434.0,490.5C1434.9,491.8 1438.6,497.0 1439.5,497.0C1440.4,497.0 1444.1,491.9 1445.0,490.5C1446.5,488.3 1452.4,474.0 1454.2,472.1C1455.3,470.8 1460.2,468.1 1461.6,467.5C1463.2,466.8 1471.1,465.0 1472.7,465.1C1473.9,465.2 1478.0,467.6 1479.1,467.5C1480.4,467.3 1485.9,462.4 1487.4,462.0C1488.8,461.6 1495.0,461.5 1496.6,462.0C1498.7,462.6 1507.5,469.7 1509.5,470.3C1511.0,470.7 1516.5,471.0 1517.8,470.3C1519.7,469.3 1526.1,456.2 1527.9,454.6C1529.1,453.5 1533.8,451.4 1535.3,450.9C1537.3,450.2 1548.0,448.4 1550.0,447.2C1551.9,446.1 1557.2,439.2 1559.2,438.0C1561.8,436.5 1576.4,433.5 1579.5,432.5C1582.2,431.6 1591.7,427.3 1594.2,427.0C1596.6,426.7 1606.7,429.4 1609.0,428.8C1611.6,428.1 1620.8,419.4 1623.6,418.0C1626.6,416.5 1640.4,412.1 1643.5,411.7C1646.1,411.4 1655.4,412.5 1658.0,412.6C1661.1,412.7 1674.7,412.3 1677.9,413.0C1681.3,413.7 1694.2,419.8 1697.8,421.7C1702.3,424.1 1722.2,436.3 1726.8,439.8C1731.6,443.5 1749.9,461.1 1754.0,465.1C1757.6,468.6 1770.2,482.1 1773.9,485.1C1777.7,488.2 1794.9,498.9 1799.3,501.4C1803.7,503.9 1822.5,513.6 1826.4,515.0C1829.1,516.0 1838.7,517.7 1840.9,518.6C1842.9,519.4 1850.1,524.6 1851.8,524.9C1853.1,525.2 1857.6,524.4 1859.0,524.0C1861.2,523.3 1872.7,516.6 1875.4,515.9C1877.8,515.3 1887.7,515.2 1889.9,515.5C1891.9,515.7 1898.9,518.5 1900.7,518.6C1902.5,518.7 1910.1,517.7 1911.6,516.8C1913.3,515.8 1919.7,506.8 1919.7,506.8"/>
<polyline fill="none" stroke="#37ad6b" stroke-width="4.80" stroke-linejoin="round" points="172.5,357.6 174.8,358.0 177.1,358.1 179.4,358.5 181.7,358.0 184.0,358.5 186.3,356.2 188.6,357.4 190.9,358.7 193.2,357.9 195.5,358.6 197.8,356.6 200.1,357.5 202.4,357.0 204.7,357.8 207.0,357.9 209.3,356.4 211.6,357.0 213.9,357.2 216.2,358.9 218.5,358.5 220.8,356.9 223.1,358.6 225.4,356.9 227.7,358.2 230.0,357.0 232.3,356.7 234.6,358.9 236.9,357.2 239.2,357.3 241.5,359.3 243.8,359.0 246.1,357.6 248.4,359.3 250.7,358.3 253.0,358.6 255.3,357.4 257.6,359.4 259.9,358.8 262.2,359.5 264.5,359.3 266.8,357.8 269.1,358.0 271.4,357.5 273.7,357.5 276.0,357.3 278.3,357.9 280.6,358.7 282.9,357.2 285.2,359.0 287.5,358.1 289.8,358.1 292.1,359.4 294.4,358.6 296.7,358.3 299.0,358.6 301.3,359.1 303.6,358.0 305.9,359.5 308.2,358.2 310.5,359.1 312.8,359.2 315.1,358.4 317.4,359.1 319.7,358.8 322.0,359.0 324.3,358.8 326.6,358.9"/>
<g stroke="#000" stroke-width="3.9" stroke-linecap="butt">
<line x1="470.6" y1="468.4" x2="520.5" y2="447.0"/>
<line x1="1261.4" y1="510.5" x2="1310.5" y2="521.0"/>
<line x1="1388.6" y1="537.8" x2="1427.1" y2="565.5"/>
<line x1="1452.4" y1="499.5" x2="1489.0" y2="522.2"/>
<line x1="1523.5" y1="474.8" x2="1565.7" y2="486.9"/>
<line x1="456.8" y1="1067.0" x2="506.7" y2="1043.2"/>
<line x1="659.8" y1="1192.9" x2="707.9" y2="1172.4"/>
<line x1="740.2" y1="1154.0" x2="790.8" y2="1166.3"/>
<line x1="1361.5" y1="1166.3" x2="1396.3" y2="1139.9"/>
<line x1="1424.4" y1="1259.1" x2="1460.5" y2="1233.0"/>
<line x1="1593.2" y1="1371.8" x2="1644.7" y2="1384.4"/>
<line x1="1646.0" y1="1263.0" x2="1680.1" y2="1300.5"/>
<line x1="1713.6" y1="1251.9" x2="1764.8" y2="1264.4"/>
</g>
<g font-size="46.4">
<text transform="translate(364.4 499.2) scale(1 1.020)">3279</text>
<text transform="translate(1156.1 526.0) scale(1 1.030)">1637</text>
<text transform="translate(1423.0 600.8) scale(1 0.960)">1517</text>
<text transform="translate(1490.7 551.6) scale(1 0.960)">1389</text>
<text transform="translate(1565.3 507.3) scale(1 0.960)">1238</text>
<text transform="translate(375.8 1104.6) scale(1 0.960)">3303</text>
<text transform="translate(557.5 1216.7) scale(1 0.960)">2882</text>
<text transform="translate(790.6 1202.8) scale(1 0.960)">2860</text>
<text transform="translate(1276.5 1205.6) scale(1 0.960)">1467</text>
<text transform="translate(1341.1 1300.4) scale(1 0.960)">1341</text>
<text transform="translate(1643.3 1420.6) scale(1 0.960)">1096</text>
<text transform="translate(1684.8 1340.6) scale(1 0.980)">962</text>
<text transform="translate(1771.8 1278.8) scale(1 0.960)">842</text>
</g>
<rect x="172.30" y="37.50" width="1748.20" height="1408.10" fill="none" stroke="#000" stroke-width="5.4"/>
<g stroke="#000">
<line x1="172.3" y1="1445.6" x2="172.3" y2="1473.6" stroke-width="5.4"/>
<line x1="415.0" y1="1445.6" x2="415.0" y2="1473.6" stroke-width="5.4"/>
<line x1="657.8" y1="1445.6" x2="657.8" y2="1473.6" stroke-width="5.4"/>
<line x1="900.5" y1="1445.6" x2="900.5" y2="1473.6" stroke-width="5.4"/>
<line x1="1143.3" y1="1445.6" x2="1143.3" y2="1473.6" stroke-width="5.4"/>
<line x1="1386.0" y1="1445.6" x2="1386.0" y2="1473.6" stroke-width="5.4"/>
<line x1="1628.8" y1="1445.6" x2="1628.8" y2="1473.6" stroke-width="5.4"/>
<line x1="1871.5" y1="1445.6" x2="1871.5" y2="1473.6" stroke-width="5.4"/>
<line x1="293.7" y1="1445.6" x2="293.7" y2="1457.3" stroke-width="4.3"/>
<line x1="536.4" y1="1445.6" x2="536.4" y2="1457.3" stroke-width="4.3"/>
<line x1="779.2" y1="1445.6" x2="779.2" y2="1457.3" stroke-width="4.3"/>
<line x1="1021.9" y1="1445.6" x2="1021.9" y2="1457.3" stroke-width="4.3"/>
<line x1="1264.6" y1="1445.6" x2="1264.6" y2="1457.3" stroke-width="4.3"/>
<line x1="1507.4" y1="1445.6" x2="1507.4" y2="1457.3" stroke-width="4.3"/>
<line x1="1750.1" y1="1445.6" x2="1750.1" y2="1457.3" stroke-width="4.3"/>
</g>
<g font-size="60" text-anchor="middle">
<text transform="translate(172.0 1538.6) scale(1 1.030)">4000</text>
<text transform="translate(414.7 1538.6) scale(1 1.030)">3500</text>
<text transform="translate(657.5 1538.6) scale(1 1.030)">3000</text>
<text transform="translate(900.2 1538.6) scale(1 1.030)">2500</text>
<text transform="translate(1143.0 1538.6) scale(1 1.030)">2000</text>
<text transform="translate(1385.7 1538.6) scale(1 1.030)">1500</text>
<text transform="translate(1628.5 1538.6) scale(1 1.030)">1000</text>
<text transform="translate(1871.2 1538.6) scale(1 1.030)">500</text>
</g>
<text transform="translate(734.4 1650) scale(1 1.030)" font-size="73.3">Wavenumber(cm<tspan font-size="44" dy="-29.5" dx="-1">-1</tspan><tspan dy="29.5" dx="7.9">)</tspan></text>
<text transform="translate(89.6 694.7) rotate(-90) scale(1 1.030)" font-size="73.3" text-anchor="middle">Transmittance</text>
<g stroke-width="5.5" fill="none">
<line x1="666.3" y1="100.0" x2="775.2" y2="100.0" stroke="#515151"/>
<line x1="666.3" y1="157.2" x2="775.2" y2="157.2" stroke="#f14040"/>
<line x1="666.3" y1="214.4" x2="775.2" y2="214.4" stroke="#1a6fdf"/>
<line x1="666.3" y1="271.6" x2="775.2" y2="271.6" stroke="#37ad6b"/>
</g>
<g font-size="46.7">
<text transform="translate(786.8 115.3) scale(1 1.030)">PEO/PVA</text>
<text transform="translate(786.8 172.6) scale(1 1.030)">HHK/PEO/PVA</text>
<text transform="translate(786.8 229.9) scale(1 1.030)">AgNP-HHK/PEO/PVA</text>
<text transform="translate(786.8 287.2) scale(1 1.030)">HHK</text>
</g>
</svg></body></html>
